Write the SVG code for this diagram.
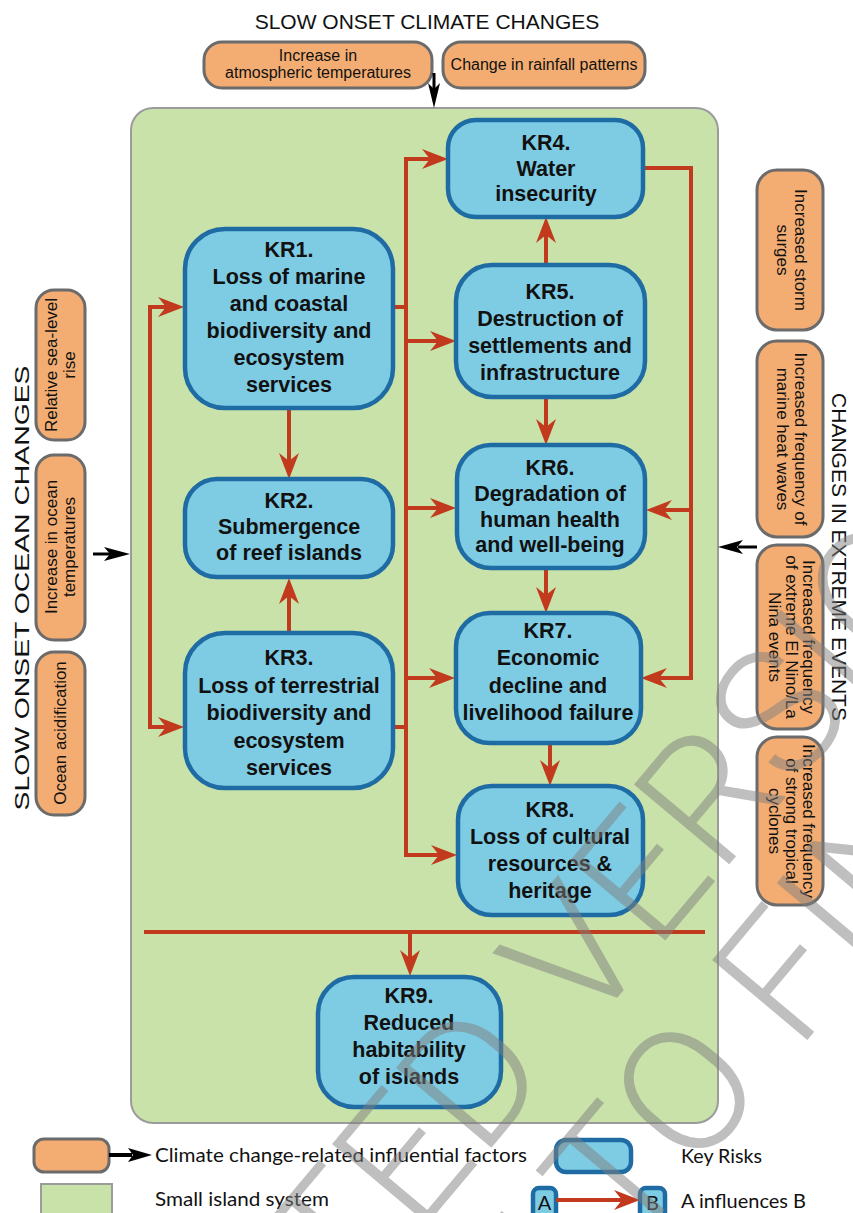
<svg xmlns="http://www.w3.org/2000/svg" width="853" height="1213" viewBox="0 0 853 1213">
<style>
.or{fill:#F3AD72;stroke:#6B6B6B;stroke-width:3}
.kr{fill:#7ECCE4;stroke:#1F6CA4;stroke-width:4.5}
.c{fill:none;stroke:#C23A1D;stroke-width:4}
.t{font-family:"Liberation Sans",Arial,sans-serif;fill:#111}
.b{font-weight:bold;font-size:21.5px;text-anchor:middle}
.s{font-size:17px;text-anchor:middle}
.m{font-size:16px;text-anchor:middle}
.h{font-size:21px;text-anchor:middle}
.lg{font-family:Lato,"Open Sans",sans-serif;font-size:20px;fill:#111}
.wm{font-family:Roboto,"Liberation Sans",sans-serif;font-weight:300;font-size:175px;fill:#808080;opacity:0.5}
</style>
<defs>
<marker id="ar" viewBox="0 -11 27 22" refX="16" refY="0" markerWidth="27" markerHeight="22" markerUnits="userSpaceOnUse" orient="auto-start-reverse">
<path d="M0,-10 L26,0 L0,10 L8,0 z" fill="#C23A1D"/>
</marker>
</defs>

<!-- headings -->
<text class="t h" x="427" y="29">SLOW ONSET CLIMATE CHANGES</text>
<text class="t h" transform="translate(29,588) rotate(-90)" font-size="28" textLength="445" lengthAdjust="spacingAndGlyphs">SLOW ONSET OCEAN CHANGES</text>
<text class="t h" transform="translate(832,557) rotate(90)">CHANGES IN EXTREME EVENTS</text>

<!-- small island system -->
<rect id="island" x="131" y="108" width="587" height="1015" rx="22" fill="#C9E2A9" stroke="#9B9B9B" stroke-width="2"/>

<!-- climate factors top -->
<g id="f-atm">
<rect class="or" x="204" y="42" width="228" height="46" rx="18"/>
<text class="t m" x="318" y="61">Increase in</text>
<text class="t m" x="318" y="78">atmospheric temperatures</text>
</g>
<g id="f-rain">
<rect class="or" x="443" y="42" width="202" height="46" rx="18"/>
<text class="t m" x="544" y="70">Change in rainfall patterns</text>
</g>

<!-- left ocean factors -->
<g id="f-sea">
<rect class="or" x="36" y="290" width="49" height="150" rx="18"/>
<text class="t s" transform="translate(57,365) rotate(-90)">Relative sea-level</text>
<text class="t s" transform="translate(75,365) rotate(-90)">rise</text>
</g>
<g id="f-ocean-temp">
<rect class="or" x="36" y="455" width="49" height="185" rx="18"/>
<text class="t s" transform="translate(57,547) rotate(-90)">Increase in ocean</text>
<text class="t s" transform="translate(75,547) rotate(-90)">temperatures</text>
</g>
<g id="f-acid">
<rect class="or" x="36" y="652" width="49" height="163" rx="18"/>
<text class="t s" transform="translate(66,733) rotate(-90)">Ocean acidification</text>
</g>

<!-- right extreme events -->
<g id="f-storm">
<rect class="or" x="757" y="170" width="66" height="160" rx="20"/>
<text class="t s" transform="translate(795,250) rotate(90)">Increased storm</text>
<text class="t s" transform="translate(777,250) rotate(90)">surges</text>
</g>
<g id="f-heat">
<rect class="or" x="757" y="341" width="66" height="196" rx="20"/>
<text class="t s" transform="translate(795,439) rotate(90)">Increased frequency of</text>
<text class="t s" transform="translate(777,439) rotate(90)">marine heat waves</text>
</g>
<g id="f-enso">
<rect class="or" x="757" y="545" width="66" height="184" rx="20"/>
<text class="t s" transform="translate(803,637) rotate(90)">Increased frequency</text>
<text class="t s" transform="translate(786,637) rotate(90)">of extreme El Nino/La</text>
<text class="t s" transform="translate(769,637) rotate(90)">Nina events</text>
</g>
<g id="f-cyclone">
<rect class="or" x="757" y="737" width="66" height="168" rx="20"/>
<text class="t s" transform="translate(803,821) rotate(90)">Increased frequency</text>
<text class="t s" transform="translate(786,821) rotate(90)">of strong tropical</text>
<text class="t s" transform="translate(769,821) rotate(90)">cyclones</text>
</g>

<!-- black influence arrows -->
<g id="factor-arrows" fill="#000" stroke="#000">
<line x1="434" y1="73" x2="434" y2="92" stroke-width="3"/>
<polygon points="428,83 434,89 440,83 434,108" stroke="none"/>
<line x1="93" y1="554" x2="110" y2="554" stroke-width="3"/>
<polygon points="104,547 110,554 104,561 130,554" stroke="none"/>
<line x1="757" y1="547" x2="738" y2="547" stroke-width="3"/>
<polygon points="743,540 737,547 743,554 718,547" stroke="none"/>
</g>

<!-- red connectors -->
<g id="connectors" class="c">
<path d="M174,307 L150,307 L150,727 L174,727" marker-start="url(#ar)" marker-end="url(#ar)"/>
<path d="M289,408 L289,469" marker-end="url(#ar)"/>
<path d="M289,633 L289,588" marker-end="url(#ar)"/>
<path d="M392,307 L406,307"/>
<path d="M392,727 L406,727"/>
<path d="M406,508 L406,159 L438,159" marker-end="url(#ar)"/>
<path d="M406,508 L406,855 L447,855" marker-end="url(#ar)"/>
<path d="M404,341 L446,341" marker-end="url(#ar)"/>
<path d="M404,508 L446,508" marker-end="url(#ar)"/>
<path d="M404,678 L445,678" marker-end="url(#ar)"/>
<path d="M546,265 L546,227" marker-end="url(#ar)"/>
<path d="M546,397 L546,435" marker-end="url(#ar)"/>
<path d="M546,568 L546,603" marker-end="url(#ar)"/>
<path d="M550,743 L550,776" marker-end="url(#ar)"/>
<path d="M643,168 L691,168 L691,678 L651,678" marker-end="url(#ar)"/>
<path d="M693,510 L656,510" marker-end="url(#ar)"/>
<path d="M144,932 L705,932"/>
<path d="M410,932 L410,966" marker-end="url(#ar)"/>
</g>

<!-- key risks -->
<g id="KR4">
<rect class="kr" x="448" y="120" width="195" height="97" rx="28"/>
<text class="t b" x="546" y="150">KR4.</text>
<text class="t b" x="546" y="176">Water</text>
<text class="t b" x="546" y="201">insecurity</text>
</g>
<g id="KR1">
<rect class="kr" x="185" y="229" width="208" height="179" rx="40"/>
<text class="t b" x="289" y="257">KR1.</text>
<text class="t b" x="289" y="284">Loss of marine</text>
<text class="t b" x="289" y="311">and coastal</text>
<text class="t b" x="289" y="338">biodiversity and</text>
<text class="t b" x="289" y="365">ecosystem</text>
<text class="t b" x="289" y="392">services</text>
</g>
<g id="KR5">
<rect class="kr" x="456" y="265" width="189" height="132" rx="36"/>
<text class="t b" x="550" y="299">KR5.</text>
<text class="t b" x="550" y="326">Destruction of</text>
<text class="t b" x="550" y="353">settlements and</text>
<text class="t b" x="550" y="380">infrastructure</text>
</g>
<g id="KR2">
<rect class="kr" x="185" y="479" width="208" height="98" rx="32"/>
<text class="t b" x="289" y="508">KR2.</text>
<text class="t b" x="289" y="534">Submergence</text>
<text class="t b" x="289" y="560">of reef islands</text>
</g>
<g id="KR6">
<rect class="kr" x="457" y="445" width="188" height="123" rx="34"/>
<text class="t b" x="550" y="475">KR6.</text>
<text class="t b" x="550" y="501">Degradation of</text>
<text class="t b" x="550" y="527">human health</text>
<text class="t b" x="550" y="552">and well-being</text>
</g>
<g id="KR3">
<rect class="kr" x="185" y="633" width="208" height="155" rx="40"/>
<text class="t b" x="289" y="665">KR3.</text>
<text class="t b" x="289" y="693">Loss of terrestrial</text>
<text class="t b" x="289" y="720">biodiversity and</text>
<text class="t b" x="289" y="748">ecosystem</text>
<text class="t b" x="289" y="775">services</text>
</g>
<g id="KR7">
<rect class="kr" x="456" y="613" width="185" height="130" rx="34"/>
<text class="t b" x="548" y="638">KR7.</text>
<text class="t b" x="548" y="665">Economic</text>
<text class="t b" x="548" y="693">decline and</text>
<text class="t b" x="548" y="720">livelihood failure</text>
</g>
<g id="KR8">
<rect class="kr" x="458" y="786" width="185" height="129" rx="34"/>
<text class="t b" x="550" y="817">KR8.</text>
<text class="t b" x="550" y="844">Loss of cultural</text>
<text class="t b" x="550" y="871">resources &amp;</text>
<text class="t b" x="550" y="898">heritage</text>
</g>
<g id="KR9">
<rect class="kr" x="318" y="977" width="183" height="130" rx="36"/>
<text class="t b" x="409" y="1003">KR9.</text>
<text class="t b" x="409" y="1030">Reduced</text>
<text class="t b" x="409" y="1057">habitability</text>
<text class="t b" x="409" y="1084">of islands</text>
</g>

<!-- legend -->
<g id="legend">
<rect class="or" x="34" y="1139" width="75" height="33" rx="10"/>
<line x1="109" y1="1155" x2="132" y2="1155" stroke="#000" stroke-width="4"/>
<polygon points="128,1148 133,1155 128,1162 152,1155" fill="#000"/>
<text class="lg" x="155" y="1162" textLength="372" lengthAdjust="spacingAndGlyphs">Climate change-related influential factors</text>
<rect x="41" y="1184" width="71" height="40" fill="#C9E2A9" stroke="#9B9B9B" stroke-width="2"/>
<text class="lg" x="155" y="1206" textLength="174" lengthAdjust="spacingAndGlyphs">Small island system</text>
<rect class="kr" x="556" y="1140" width="75" height="32" rx="10"/>
<text class="lg" x="681" y="1163" textLength="81" lengthAdjust="spacingAndGlyphs">Key Risks</text>
<rect class="kr" x="533" y="1188" width="23" height="36" rx="6" stroke-width="3"/>
<text class="lg" x="544.5" y="1210" text-anchor="middle" font-size="18">A</text>
<rect class="kr" x="640" y="1188" width="25" height="36" rx="6" stroke-width="3"/>
<text class="lg" x="652.5" y="1210" text-anchor="middle" font-size="18">B</text>
<path class="c" d="M556,1200 L630,1200" marker-end="url(#ar)"/>
<text class="lg" x="681" y="1208" textLength="125" lengthAdjust="spacingAndGlyphs">A influences B</text>
</g>

<!-- watermark -->
<g id="watermark">
<g transform="translate(555,1072) rotate(-50)">
<text class="wm" x="0" y="0" text-anchor="end">ACCEPTED</text>
<text class="wm" x="48" y="0">VERSION</text>
</g>
<g transform="translate(700,1168) rotate(-50)">
<text class="wm" x="-156" y="0" text-anchor="end">SUBJECT</text>
<text class="wm" x="-112" y="0">TO FINAL EDITS</text>
</g>
</g>
</svg>
